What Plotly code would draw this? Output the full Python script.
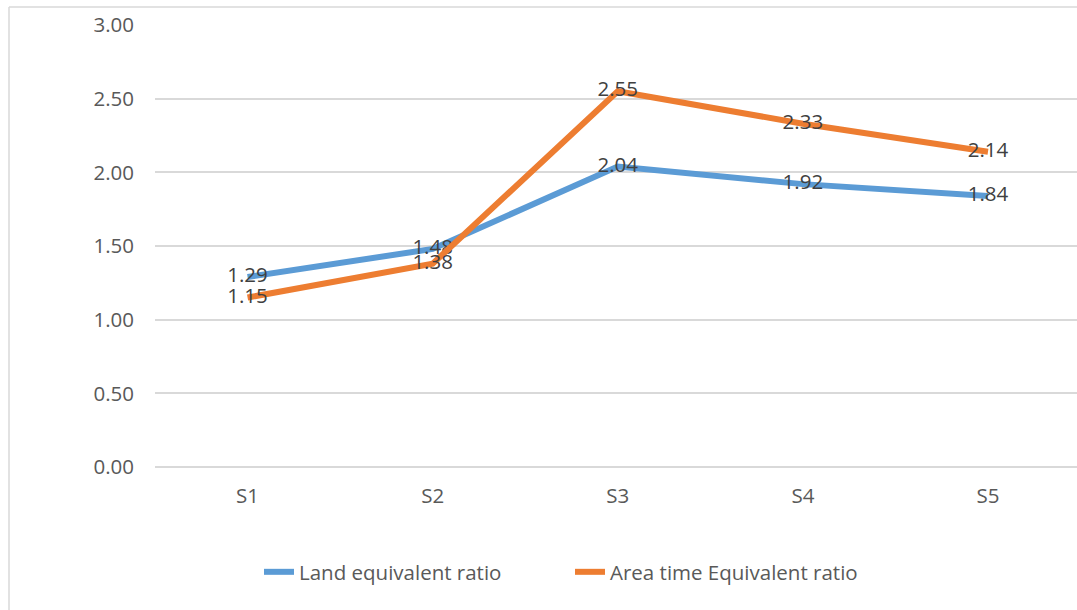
import plotly.graph_objects as go

categories = ["S1", "S2", "S3", "S4", "S5"]
land_equivalent = [1.29, 1.48, 2.04, 1.92, 1.84]
area_time_equivalent = [1.15, 1.38, 2.55, 2.33, 2.14]
y_ticks = [0, 0.5, 1.0, 1.5, 2.0, 2.5, 3.0]
y_tick_labels = ["0.00", "0.50", "1.00", "1.50", "2.00", "2.50", "3.00"]

FONT = "Open Sans"
FS = 20.5
W, H = 1077, 610
ML, MR, MT, MB = 155, 0, 25, 143

fig = go.Figure()
fig.add_trace(go.Scatter(
    x=list(range(len(categories))), y=land_equivalent, name="Land equivalent ratio",
    mode="lines+text", line=dict(color="#5B9BD5", width=6),
    text=[f"{v:.2f}" for v in land_equivalent], textposition="middle center",
    textfont=dict(family=FONT, size=FS, color="#404040"), cliponaxis=False,
))
fig.add_trace(go.Scatter(
    x=list(range(len(categories))), y=area_time_equivalent, name="Area time Equivalent ratio",
    mode="lines+text", line=dict(color="#ED7D31", width=6),
    text=[f"{v:.2f}" for v in area_time_equivalent], textposition="middle center",
    textfont=dict(family=FONT, size=FS, color="#404040"), cliponaxis=False,
))

pw = W - ML - MR
ph = H - MT - MB
fig.update_layout(
    width=W, height=H,
    margin=dict(l=ML, r=MR, t=MT, b=MB),
    paper_bgcolor="white", plot_bgcolor="white",
    font=dict(family=FONT, size=FS, color="#595959"),
    showlegend=True,
    legend=dict(
        orientation="h", xref="container", yref="container",
        x=259 / W, y=1 - 552 / H, xanchor="left", yanchor="top",
        font=dict(family=FONT, size=FS, color="#595959"),
        entrywidth=266, entrywidthmode="pixels",
        bgcolor="rgba(0,0,0,0)",
    ),
    xaxis=dict(
        tickmode="array", tickvals=list(range(len(categories))), ticktext=categories,
        range=[-0.5, -0.5 + pw / ((988 - 155) / 4.5)],
        showgrid=False, zeroline=False, showline=False,
        ticks="", ticklabelstandoff=14,
        tickfont=dict(family=FONT, size=FS, color="#595959"),
    ),
    yaxis=dict(
        tickmode="array", tickvals=y_ticks, ticktext=y_tick_labels,
        range=[0, 3.0], showgrid=True, gridcolor="#D9D9D9", gridwidth=1.5,
        zeroline=True, zerolinecolor="#D9D9D9", zerolinewidth=1.5,
        showline=False, ticks="", ticklabelstandoff=20,
        tickfont=dict(family=FONT, size=FS, color="#595959"),
    ),
)

# chart-area border (top and left edges visible in the cropped reference)
top_y = 1 + (MT - 7) / ph
left_x = (9 - ML) / pw
fig.add_shape(type="line", xref="paper", yref="paper",
              x0=left_x, x1=1.0, y0=top_y, y1=top_y,
              line=dict(color="#D9D9D9", width=1.5), layer="below")
fig.add_shape(type="line", xref="paper", yref="paper",
              x0=left_x, x1=left_x, y0=top_y, y1=-MB / ph,
              line=dict(color="#D9D9D9", width=1.5), layer="below")

fig.write_html(
    "out.html",
    config={"displayModeBar": False},
    post_script="document.body.style.margin='0';document.body.style.overflow='hidden';",
)
